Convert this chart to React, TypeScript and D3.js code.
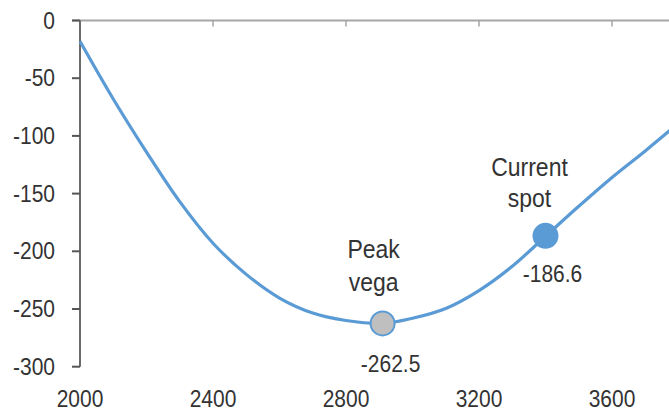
import React from "react";
import * as d3 from "d3";

const strikes = [2000, 2100, 2200, 2300, 2400, 2500, 2600, 2700, 2800, 2910, 3000, 3100, 3200, 3300, 3400, 3500, 3600, 3700, 3800];
const vega = [-18, -68, -114, -157, -193, -220, -240.5, -253.5, -260, -262.5, -258, -249.5, -234, -213, -187, -161, -136, -113, -89];

const xTicks = [2000, 2400, 2800, 3200, 3600];
const yTicks = [0, -50, -100, -150, -200, -250, -300];

const peakX = 2910;
const peakV = -262.5;
const spotX = 3400;
const spotV = -186.6;
const peakLabel = ["Peak", "vega"];
const spotLabel = ["Current", "spot"];

const W = 669;
const H = 413;
const BLUE = "#5b9bd5";
const TXT = "#333333";
const FONT = "'Liberation Sans', Arial, sans-serif";

function T({ x, y, anchor = "middle", size = 21, children }: any) {
  return (
    <text
      transform={`translate(${x},${y}) scale(1,1.15)`}
      textAnchor={anchor}
      fontSize={size}
      fontFamily={FONT}
      fill={TXT}
    >
      {children}
    </text>
  );
}

export default function App() {
  const x = d3.scaleLinear().domain([2000, 3800]).range([80, 678.5]);
  const y = d3.scaleLinear().domain([-300, 0]).range([366.7, 20.5]);
  const pts: [number, number][] = strikes.map((s, i) => [s, vega[i]]);
  const line = d3
    .line<[number, number]>()
    .x((d) => x(d[0]))
    .y((d) => y(d[1]))
    .curve(d3.curveCatmullRom.alpha(0.5));

  const px = x(peakX), py = y(peakV);
  const sx = x(spotX), sy = y(spotV);

  return (
    <svg width={W} height={H} style={{ position: "absolute", left: 0, top: 0, background: "#fff" }}>
      <line x1={72} x2={W} y1={y(0)} y2={y(0)} stroke="#a6a6a6" strokeWidth={2} />
      {xTicks.map((t) => (
        <line key={"xt" + t} x1={x(t)} x2={x(t)} y1={y(0)} y2={y(0) + 6} stroke="#a6a6a6" strokeWidth={1.5} />
      ))}
      <line x1={80} x2={80} y1={y(0)} y2={y(-300)} stroke="#6b6b6b" strokeWidth={2} />
      {yTicks.map((t) => (
        <g key={"yt" + t}>
          <line x1={72} x2={80} y1={y(t)} y2={y(t)} stroke="#555" strokeWidth={2} />
          <T x={55} y={y(t) + 8} anchor="end">{t}</T>
        </g>
      ))}
      {xTicks.map((t) => (
        <T key={"xl" + t} x={x(t)} y={407}>{t}</T>
      ))}
      <path d={line(pts) || ""} fill="none" stroke={BLUE} strokeWidth={3.2} />
      <circle cx={px} cy={py} r={12} fill="#bfbfbf" stroke={BLUE} strokeWidth={2} />
      <circle cx={sx} cy={sy} r={13} fill={BLUE} />
      <T x={px - 9} y={py - 65} size={23}>{peakLabel[0]}</T>
      <T x={px - 9} y={py - 32} size={23}>{peakLabel[1]}</T>
      <T x={px + 8} y={py + 49} size={21}>{peakV}</T>
      <T x={sx - 16} y={sy - 60} size={23}>{spotLabel[0]}</T>
      <T x={sx - 16} y={sy - 29} size={23}>{spotLabel[1]}</T>
      <T x={sx + 7} y={sy + 46} size={21}>{spotV}</T>
    </svg>
  );
}
